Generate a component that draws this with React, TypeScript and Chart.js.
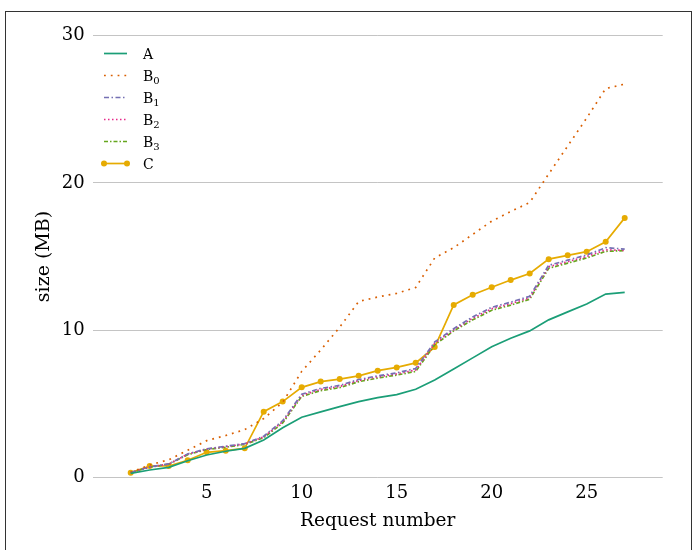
import React, { useEffect, useRef } from 'react';
import { Chart, registerables } from 'chart.js';

Chart.register(...registerables);

const requestNumbers = [1, 2, 3, 4, 5, 6, 7, 8, 9, 10, 11, 12, 13, 14, 15, 16, 17, 18, 19, 20, 21, 22, 23, 24, 25, 26, 27];

const seriesA = [0.28, 0.51, 0.69, 1.14, 1.53, 1.78, 1.98, 2.55, 3.38, 4.09, 4.45, 4.81, 5.15, 5.42, 5.63, 5.99, 6.62, 7.37, 8.12, 8.87, 9.45, 9.95, 10.7, 11.24, 11.78, 12.45, 12.57];
const seriesB0 = [0.35, 0.85, 1.2, 1.85, 2.5, 2.85, 3.25, 4.0, 5.1, 7.2, 8.65, 10.2, 11.95, 12.25, 12.5, 12.9, 14.9, 15.6, 16.5, 17.4, 18.05, 18.67, 20.6, 22.5, 24.4, 26.4, 26.7];
const seriesB1 = [0.33, 0.73, 0.92, 1.6, 1.95, 2.12, 2.3, 2.8, 3.85, 5.65, 6.05, 6.25, 6.65, 6.9, 7.1, 7.4, 9.2, 10.1, 10.9, 11.55, 11.9, 12.3, 14.4, 14.75, 15.1, 15.6, 15.5];
const seriesB2 = [0.33, 0.72, 0.91, 1.58, 1.93, 2.09, 2.28, 2.75, 3.78, 5.58, 5.98, 6.18, 6.58, 6.83, 7.03, 7.3, 9.1, 10.03, 10.8, 11.45, 11.8, 12.2, 14.3, 14.65, 15.0, 15.45, 15.42];
const seriesB3 = [0.33, 0.7, 0.9, 1.55, 1.9, 2.05, 2.25, 2.7, 3.7, 5.5, 5.9, 6.1, 6.5, 6.75, 6.95, 7.2, 9.0, 9.95, 10.7, 11.35, 11.7, 12.1, 14.2, 14.55, 14.9, 15.35, 15.4];
const seriesC = [0.33, 0.78, 0.78, 1.17, 1.71, 1.82, 1.98, 4.47, 5.15, 6.12, 6.51, 6.68, 6.9, 7.25, 7.47, 7.78, 8.85, 11.71, 12.4, 12.91, 13.4, 13.85, 14.82, 15.08, 15.33, 16.0, 17.62];

const seriesLabels = ['A', 'B₀', 'B₁', 'B₂', 'B₃', 'C'];
const xTicks = [5, 10, 15, 20, 25];
const yTicks = [0, 10, 20, 30];
const xTitle = 'Request number';
const yTitle = 'size (MB)';

const FONT = '"DejaVu Serif", serif';

const toPoints = (vals: number[]) => vals.map((v, i) => ({ x: requestNumbers[i], y: v }));

const SUB_MAP: Record<string, string> = { '₀': '0', '₁': '1', '₂': '2', '₃': '3' };

const framePlugin = {
  id: 'frame',
  afterDraw(chart: any) {
    const ctx = chart.ctx;
    ctx.save();
    ctx.strokeStyle = '#333333';
    ctx.lineWidth = 1;
    ctx.strokeRect(5.5, 11.5, 686, 600);
    ctx.restore();
  },
};

const legendPlugin = {
  id: 'insideLegend',
  afterDraw(chart: any) {
    const ctx = chart.ctx;
    const x0 = 104;
    const x1 = 127;
    const tx = 143;
    chart.data.datasets.forEach((ds: any, i: number) => {
      const y = 53.5 + i * 22;
      ctx.save();
      ctx.strokeStyle = ds.borderColor;
      ctx.lineWidth = ds.borderWidth;
      ctx.setLineDash(ds.borderDash || []);
      ctx.beginPath();
      ctx.moveTo(x0, y);
      ctx.lineTo(x1, y);
      ctx.stroke();
      ctx.setLineDash([]);
      if (ds.pointRadius > 0) {
        ctx.fillStyle = ds.pointBackgroundColor;
        [x0, x1].forEach((px) => {
          ctx.beginPath();
          ctx.arc(px, y, ds.pointRadius, 0, Math.PI * 2);
          ctx.fill();
        });
      }
      const label: string = ds.label;
      let main = '';
      let sub = '';
      for (const ch of label) {
        if (SUB_MAP[ch]) sub += SUB_MAP[ch];
        else main += ch;
      }
      ctx.fillStyle = '#000';
      ctx.textBaseline = 'alphabetic';
      ctx.textAlign = 'left';
      ctx.font = `14px ${FONT}`;
      ctx.fillText(main, tx, y + 5);
      if (sub) {
        const w = ctx.measureText(main).width;
        ctx.font = `10px ${FONT}`;
        ctx.fillText(sub, tx + w, y + 8);
      }
      ctx.restore();
    });
  },
};

export default function App() {
  const ref = useRef<HTMLCanvasElement | null>(null);

  useEffect(() => {
    if (!ref.current) return;
    const base = { fill: false, tension: 0, borderWidth: 1.7, pointRadius: 0, pointHoverRadius: 0 };
    const chart = new Chart(ref.current, {
      type: 'line',
      data: {
        datasets: [
          { ...base, label: seriesLabels[0], data: toPoints(seriesA), borderColor: '#1b9e77', backgroundColor: '#1b9e77' },
          { ...base, label: seriesLabels[1], data: toPoints(seriesB0), borderColor: '#d95f02', backgroundColor: '#d95f02', borderDash: [1.8, 5] },
          { ...base, label: seriesLabels[2], data: toPoints(seriesB1), borderColor: '#7570b3', backgroundColor: '#7570b3', borderDash: [5, 2.5, 1.5, 2.5] },
          { ...base, label: seriesLabels[3], data: toPoints(seriesB2), borderColor: '#e7298a', backgroundColor: '#e7298a', borderDash: [1.5, 2.5] },
          { ...base, label: seriesLabels[4], data: toPoints(seriesB3), borderColor: '#66a61e', backgroundColor: '#66a61e', borderDash: [4, 2, 1.5, 2] },
          { ...base, label: seriesLabels[5], data: toPoints(seriesC), borderColor: '#e6ab02', backgroundColor: '#e6ab02', pointRadius: 3, pointBackgroundColor: '#e6ab02', pointBorderColor: '#e6ab02', pointBorderWidth: 0 },
        ],
      },
      options: {
        animation: false,
        responsive: false,
        maintainAspectRatio: false,
        devicePixelRatio: 1,
        layout: { padding: { left: 30, right: 33.3, top: 35.5, bottom: 0 } },
        plugins: { legend: { display: false }, tooltip: { enabled: false } },
        scales: {
          x: {
            type: 'linear',
            min: -1,
            max: 29,
            afterBuildTicks: (scale: any) => { scale.ticks = xTicks.map((v) => ({ value: v })); },
            afterFit: (scale: any) => { scale.height = 72.5; },
            grid: { display: false, drawTicks: false },
            border: { display: false },
            ticks: { color: '#000', font: { family: FONT, size: 18 }, padding: 5, maxRotation: 0 },
            title: { display: true, text: xTitle, color: '#000', font: { family: FONT, size: 18.5 }, padding: { top: 4, bottom: 18 } },
          },
          y: {
            type: 'linear',
            min: 0,
            max: 30,
            afterBuildTicks: (scale: any) => { scale.ticks = yTicks.map((v) => ({ value: v })); },
            afterFit: (scale: any) => { scale.width = 62.7; },
            grid: { color: '#c4c4c4', lineWidth: 1, drawTicks: false },
            border: { display: false },
            ticks: { color: '#000', font: { family: FONT, size: 18 }, padding: 8 },
            title: { display: true, text: yTitle, color: '#000', font: { family: FONT, size: 19 }, padding: { top: 3, bottom: 0 } },
          },
        },
      },
      plugins: [legendPlugin, framePlugin],
    } as any);
    return () => chart.destroy();
  }, []);

  return (
    <div style={{ position: 'fixed', left: 0, top: 0, width: 696, height: 550, background: '#fff' }}>
      <canvas ref={ref} width={696} height={550} style={{ width: 696, height: 550, display: 'block' }} />
    </div>
  );
}
